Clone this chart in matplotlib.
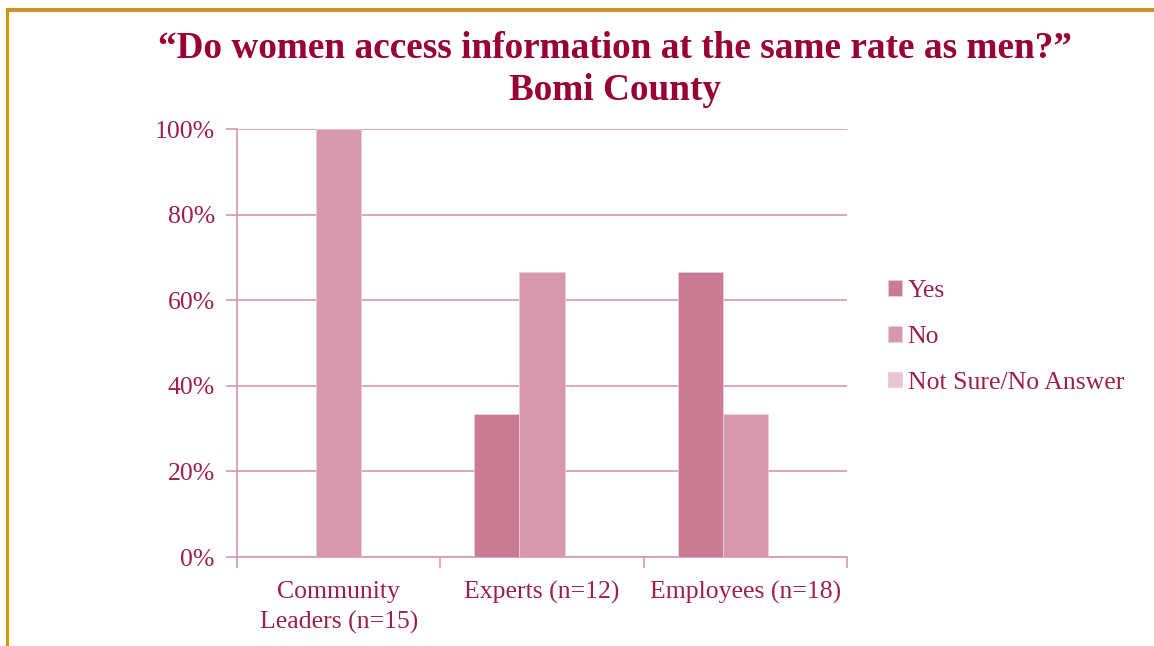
import numpy as np
import matplotlib.pyplot as plt
from matplotlib.lines import Line2D
from matplotlib.ticker import FixedLocator

groups = ["Community\nLeaders (n=15)", "Experts (n=12)", "Employees (n=18)"]
series = ["Yes", "No", "Not Sure/No Answer"]
yes = [0, 33.3, 66.7]
no = [100, 66.7, 33.3]
not_sure = [0, 0, 0]
colors = ["#C97B94", "#D698AD", "#E9C4D1"]

plt.rcParams["font.family"] = ["Liberation Serif", "DejaVu Serif"]
text_color = "#9E1F48"
line_color = "#D698AD"

fig = plt.figure(figsize=(11.54, 6.46), dpi=100, facecolor="white")
ax = fig.add_axes([237/1154, 1-557/646, 610/1154, 428/646])

x = np.arange(len(groups))
w = 0.222
for i, (vals, name) in enumerate(zip([yes, no, not_sure], series)):
    ax.bar(x + (i - 1) * w, vals, width=w, color=colors[i], label=name,
           edgecolor="#EDCBD7", linewidth=0.6, zorder=3)

ax.set_xlim(-0.5, 2.5)
ax.set_ylim(0, 100)
ax.set_yticks(range(0, 101, 20))
ax.set_yticklabels([f"{v}%" for v in range(0, 101, 20)])
ax.yaxis.grid(True, color=line_color, lw=1.2, zorder=0)
ax.set_xticks(x)
ax.set_xticklabels(groups, linespacing=1.45)
ax.xaxis.set_minor_locator(FixedLocator([-0.5, 0.5, 1.5, 2.5]))
ax.tick_params(axis="x", which="major", length=0, pad=17, labelsize=18.5,
               labelcolor=text_color)
ax.tick_params(axis="x", which="minor", length=8, width=1.2, color=line_color)
ax.tick_params(axis="y", length=8, width=1.2, color=line_color, pad=8,
               labelsize=18.5, labelcolor=text_color)
for s in ["top", "right"]:
    ax.spines[s].set_visible(False)
for s in ["left", "bottom"]:
    ax.spines[s].set_color(line_color)
    ax.spines[s].set_linewidth(1.2)

leg = fig.legend(loc="upper left", bbox_to_anchor=(878/1154, 1-270/646),
                 frameon=False, fontsize=18.5, handlelength=0.55,
                 handleheight=0.55, handletextpad=0.2, labelspacing=0.92,
                 borderaxespad=0)
for t in leg.get_texts():
    t.set_color(text_color)

fig.text(615/1154, 1-49/646, "“Do women access information at the same rate as men?”",
         ha="center", va="center", fontsize=26.8, fontweight="bold", color="#990033")
fig.text(615/1154, 1-91/646, "Bomi County",
         ha="center", va="center", fontsize=26.8, fontweight="bold", color="#990033")

# frame lines along the top and left edges
fig.add_artist(Line2D([7/1154, 1], [1-9/646, 1-9/646], color="#CC9900", lw=2.2))
fig.add_artist(Line2D([9/1154, 1], [1-11/646, 1-11/646], color="#D27AA0", lw=0.8))
fig.add_artist(Line2D([7/1154, 7/1154], [0, 1-9/646], color="#CC9900", lw=2.2))

fig.savefig("out.png", dpi=100, facecolor="white")
